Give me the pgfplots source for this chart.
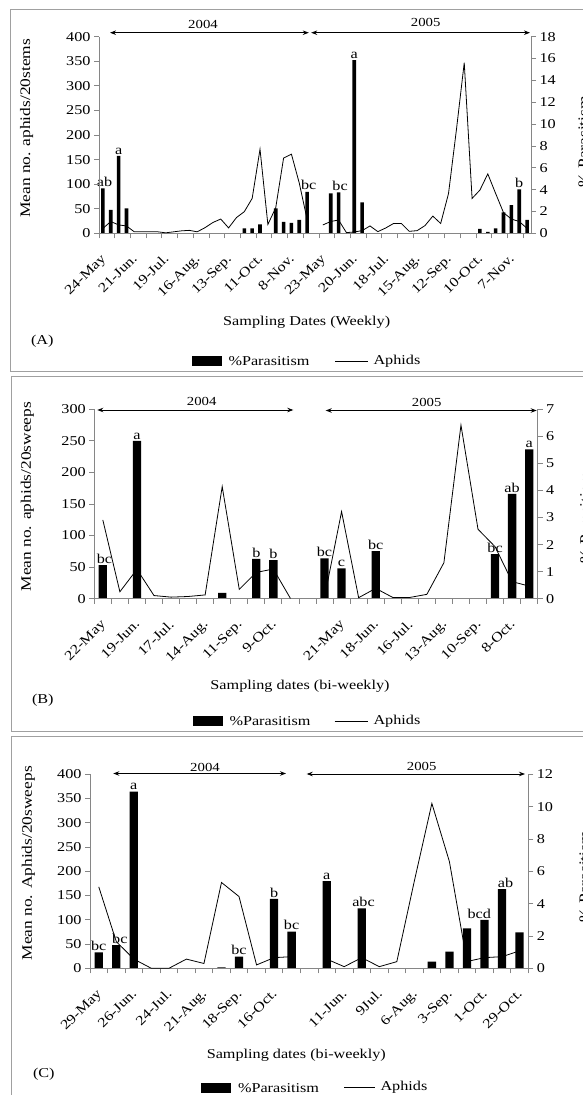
\documentclass[border=0pt]{standalone}
\usepackage{fontspec}
\setmainfont{Liberation Serif}[FakeStretch=1.2]
\usepackage{pgfplots}
\pgfplotsset{compat=1.18}
\usetikzlibrary{arrows.meta}

\definecolor{axgray}{HTML}{868686}
\definecolor{boxgray}{HTML}{A0A0A0}
\newcommand{\fs}{\fontsize{13.5bp}{15bp}\selectfont}
\newcommand{\fy}{\fontsize{14.5bp}{16bp}\selectfont}
\newcommand{\fyr}{\fontsize{12.3bp}{14bp}\selectfont}

\pgfplotsset{
  base/.style={
    scale only axis, anchor=south west, ymin=0, clip=false,
    axis line style={draw=axgray, line width=0.8bp},
    major tick style={draw=axgray, line width=0.8bp},
    tick align=outside, major tick length=5bp,
    tick label style={font=\fs},
    /pgf/number format/assume math mode=true,
  },
  lineax/.style={base, axis x line*=bottom, axis y line*=left,
    xticklabels={},
    extra x tick style={major tick length=0pt,
      tick label style={xshift=-3bp, yshift=-15bp, rotate=45,
        anchor=north east, font=\fs}},
  },
  barax/.style={base, axis x line=none, axis y line*=right},
  bars/.style={ybar, bar shift=0pt, fill=black, draw=none},
  aph/.style={black, line width=0.8bp},
}
\tikzset{lab/.style={font=\fs, anchor=south, inner sep=1.5bp}}

\begin{document}
\begin{tikzpicture}
\path[use as bounding box] (0bp,0bp) rectangle (583bp,-1095bp);
\clip (0bp,0bp) rectangle (583bp,-1095bp);

\begin{scope}[x=1bp,y=-1bp]
% panel frames
\draw[boxgray, line width=0.8bp] (10.5,9.3) rectangle (600,371.7);
\draw[boxgray, line width=0.8bp] (11.7,376.7) rectangle (600,731.7);
\draw[boxgray, line width=0.8bp] (11.7,736.7) rectangle (600,1110);

% year arrows
\tikzset{yr/.style={{Stealth[length=6bp,width=4.5bp]}-{Stealth[length=6bp,width=4.5bp]}, line width=0.9bp}}
\draw[yr] (110,32.7) -- (308.8,32.7);
\draw[yr] (311.2,32.7) -- (530,32.7);
\node[font=\fyr, anchor=base] at (203,28.7) {2004};
\node[font=\fyr, anchor=base] at (425.7,26.7) {2005};
\draw[yr] (97.3,410) -- (293.3,410);
\draw[yr] (325.7,410.5) -- (536.7,410.5);
\node[font=\fyr, anchor=base] at (201.7,405) {2004};
\node[font=\fyr, anchor=base] at (426.7,406) {2005};
\draw[yr] (113.3,773.5) -- (286,773.5);
\draw[yr] (306.7,774) -- (525,774);
\node[font=\fyr, anchor=base] at (205,771) {2004};
\node[font=\fyr, anchor=base] at (421.7,770) {2005};

% axis titles
\node[font=\fy, rotate=90] at (26.7,128.3) {Mean no. aphids/20stems};
\node[font=\fy, rotate=90] at (27.3,496.7) {Mean no. aphids/20sweeps};
\node[font=\fy, rotate=90] at (28.3,863.3) {Mean no. Aphids/20sweeps};
\node[font=\fy, rotate=90, anchor=north] at (575,141.7) {\% Parasitism};
\node[font=\fy, rotate=90, anchor=north] at (576.7,518) {\% Parasitism};
\node[font=\fy, rotate=90, anchor=north] at (576,876.7) {\% Parasitism};
\node[font=\fs] at (306.7,322) {Sampling Dates (Weekly)};
\node[font=\fs] at (300,686) {Sampling dates (bi-weekly)};
\node[font=\fs] at (296.3,1055) {Sampling dates (bi-weekly)};
\node[font=\fs, anchor=west] at (27.5,341.7) {(A)};
\node[font=\fs, anchor=west] at (28.5,700) {(B)};
\node[font=\fs, anchor=west] at (29.5,1074) {(C)};

% legends
\fill (191.7,356) rectangle (221.7,366);
\node[font=\fs, anchor=west] at (225,361) {\%Parasitism};
\draw[line width=0.8bp] (335,361) -- (368,361);
\node[font=\fs, anchor=west] at (370,361) {Aphids};
\fill (192.6,716) rectangle (222.6,726);
\node[font=\fs, anchor=west] at (226,721) {\%Parasitism};
\draw[line width=0.8bp] (334.6,721) -- (368,721);
\node[font=\fs, anchor=west] at (370,721) {Aphids};
\fill (200.7,1082.7) rectangle (230.7,1092.7);
\node[font=\fs, anchor=west] at (234.5,1087.7) {\%Parasitism};
\draw[line width=0.8bp] (344,1087.7) -- (375,1087.7);
\node[font=\fs, anchor=west] at (377,1087.7) {Aphids};
\end{scope}

% ---------------- panel A ----------------
\begin{axis}[barax, at={(99bp,-233.3bp)}, width=432bp, height=196.6bp,
  xmin=-0.5, xmax=54.5, ymax=18, ytick={0,2,...,18}]
\addplot[bars, bar width=3.6bp] coordinates {
  (0,4.12) (1,2.14) (2,7.08) (3,2.29) (18,0.46) (19,0.46) (20,0.82)
  (22,2.29) (23,1.04) (24,0.95) (25,1.22) (26,3.80) (29,3.66) (30,3.75)
  (32,15.86) (33,2.84) (48,0.40) (49,0.12) (50,0.46) (51,1.92) (52,2.59)
  (53,4.03) (54,1.22)};
\node[lab] at (axis cs:0.2,4.12) {ab};
\node[lab] at (axis cs:2,7.08) {a};
\node[lab] at (axis cs:26.2,3.80) {bc};
\node[lab] at (axis cs:30.2,3.75) {bc};
\node[lab] at (axis cs:32,15.86) {a};
\node[lab] at (axis cs:53,4.03) {b};
\end{axis}
\begin{axis}[lineax, at={(99bp,-233.3bp)}, width=432bp, height=196.6bp,
  xmin=-0.5, xmax=54.5, ymax=400, ytick={0,50,...,400},
  xtick={-0.5,1.5,...,53.5},
  extra x ticks={0,4,8,12,16,20,24,28,32,36,40,44,48,52},
  extra x tick labels={24-May,21-Jun.,19-Jul.,16-Aug.,13-Sep.,11-Oct.,8-Nov.,
    23-May,20-Jun.,18-Jul.,15-Aug.,12-Sep.,10-Oct.,7-Nov.}]
\addplot[aph] coordinates {
  (0,10) (1,24) (2,17) (3,15) (4,3) (5,3) (6,3) (7,3) (8,1) (9,3) (10,5)
  (11,6) (12,3) (13,11.5) (14,22) (15,29) (16,11) (17,32) (18,44) (19,71)
  (20,171) (21,18) (22,52) (23,153) (24,161) (25,102) (26,28)};
\addplot[aph] coordinates {
  (28,17) (29,24) (30,27) (31,1.4) (32,2.7) (33,5.4) (34,15) (35,3.4)
  (36,10.8) (37,20) (38,20) (39,4) (40,5.4) (41,15.6) (42,35) (43,20)
  (44,81) (45,210) (46,347) (47,71) (48,88) (49,121) (50,81) (51,42)
  (52,29) (53,24) (54,10)};
\end{axis}

% ---------------- panel B ----------------
\begin{axis}[barax, at={(94.3bp,-598.7bp)}, width=443.4bp, height=189.4bp,
  xmin=-0.5, xmax=25.5, ymax=7, ytick={0,1,...,7}]
\addplot[bars, bar width=8.3bp] coordinates {
  (0,1.245) (2,5.83) (7,0.22) (9,1.47) (10,1.43) (13,1.49) (14,1.12)
  (16,1.76) (23,1.65) (24,3.87) (25,5.52)};
\node[lab] at (axis cs:0.1,1.245) {bc};
\node[lab] at (axis cs:2,5.83) {a};
\node[lab] at (axis cs:9,1.47) {b};
\node[lab] at (axis cs:10,1.43) {b};
\node[lab] at (axis cs:13,1.49) {bc};
\node[lab] at (axis cs:14,1.12) {c};
\node[lab] at (axis cs:16,1.76) {bc};
\node[lab] at (axis cs:23,1.65) {bc};
\node[lab] at (axis cs:24,3.87) {ab};
\node[lab] at (axis cs:25,5.52) {a};
\end{axis}
\begin{axis}[lineax, at={(94.3bp,-598.7bp)}, width=443.4bp, height=189.4bp,
  xmin=-0.5, xmax=25.5, ymax=300, ytick={0,50,...,300},
  xtick={-0.5,0.5,...,25.5},
  extra x ticks={0,2,4,6,8,10,14,16,18,20,22,24},
  extra x tick labels={22-May,19-Jun.,17-Jul.,14-Aug.,11-Sep.,9-Oct.,
    21-May,18-Jun.,16-Jul.,13-Aug.,10-Sep.,8-Oct.}]
\addplot[aph] coordinates {
  (0,124.7) (1,11) (2,46.5) (3,5) (4,2.5) (5,3.5) (6,6) (7,177.5)
  (8,14.8) (9,41.7) (10,47) (11,0.5)};
\addplot[aph] coordinates {
  (13,2) (14,138) (15,1.6) (16,16.4) (17,2) (18,2) (19,6.9) (20,57)
  (21,275) (22,110) (23,82.4) (24,27) (25,20)};
\end{axis}

% ---------------- panel C ----------------
\begin{axis}[barax, at={(90bp,-968.3bp)}, width=438.3bp, height=194bp,
  xmin=-0.5, xmax=24.5, ymax=12, ytick={0,2,...,12}]
\addplot[bars, bar width=8.3bp] coordinates {
  (0,0.99) (1,1.44) (2,10.93) (7,0.06) (8,0.72) (10,4.29) (11,2.27)
  (13,5.40) (15,3.71) (19,0.41) (20,1.03) (21,2.47) (22,2.99) (23,4.90)
  (24,2.23)};
\node[lab] at (axis cs:0,0.99) {bc};
\node[lab] at (axis cs:1.2,1.44) {bc};
\node[lab] at (axis cs:2,10.93) {a};
\node[lab] at (axis cs:8,0.72) {bc};
\node[lab] at (axis cs:10,4.29) {b};
\node[lab] at (axis cs:11,2.27) {bc};
\node[lab] at (axis cs:13,5.40) {a};
\node[lab] at (axis cs:15.1,3.71) {abc};
\node[lab] at (axis cs:21.7,2.99) {bcd};
\node[lab] at (axis cs:23.2,4.90) {ab};
\end{axis}
\begin{axis}[lineax, at={(90bp,-968.3bp)}, width=438.3bp, height=194bp,
  xmin=-0.5, xmax=24.5, ymax=400, ytick={0,50,...,400},
  xtick={-0.5,0.5,...,24.5},
  extra x ticks={0,2,4,6,8,10,14,16,18,20,22,24},
  extra x tick labels={29-May,26-Jun.,24-Jul.,21-Aug.,18-Sep.,16-Oct.,
    11-Jun.,9Jul.,6-Aug.,3-Sep.,1-Oct.,29-Oct.}]
\addplot[aph] coordinates {
  (0,168) (1,55) (2,19) (3,0) (4,0) (5,19) (6,10) (7,177) (8,148) (9,7)
  (10,22) (11,24)};
\addplot[aph] coordinates {
  (13,19) (14,3.4) (15,22) (16,3.4) (17,13.7) (18,180) (19,340) (20,220)
  (21,14) (22,22) (23,24) (24,36)};
\end{axis}
\end{tikzpicture}
\end{document}
